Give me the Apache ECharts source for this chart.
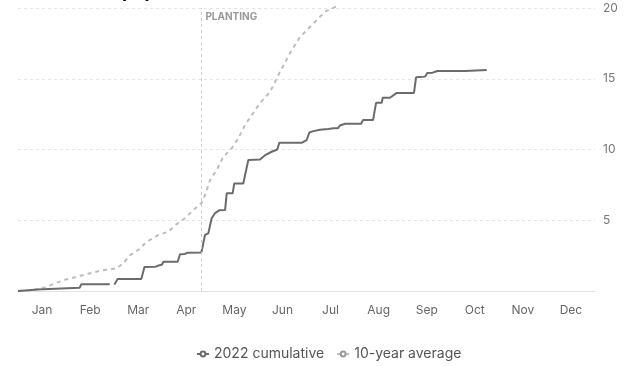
<!DOCTYPE html>
<html>
<head>
<meta charset="utf-8">
<script src="https://cdn.jsdelivr.net/npm/echarts@6/dist/echarts.min.js"></script>
<style>
  html, body { margin: 0; padding: 0; background: #fff; }
  #chart { width: 624px; height: 366px; }
</style>
</head>
<body>
<div id="chart"></div>
<script>
// month labels along the bottom
var months = ['Jan', 'Feb', 'Mar', 'Apr', 'May', 'Jun', 'Jul', 'Aug', 'Sep', 'Oct', 'Nov', 'Dec'];

// 2022 cumulative rainfall, day of year -> inches (null = missing)
var days2022 = [0, 7, 12, 13, 39, 40, 58, 59, 61, 63, 78, 80, 87, 89, 91, 92, 101, 102.5, 105.6, 107, 116,
  118.3, 120.4, 122.5, 124.6, 127.3, 131, 132, 135.8, 136.8, 142.5, 145.7, 153.1, 156.3, 160.5, 164, 165.3,
  179.7, 182.6, 184.3, 186.8, 191, 196.3, 199.5, 202.4, 203.7, 206.9, 217, 218.3, 224.6, 226.5, 230.1, 230.7,
  235.3, 239.6, 250.5, 251.8, 257.5, 258.9, 262.3, 265.3, 282.8, 283.8, 296.5];
var cum2022 = [0, 0.05, 0.1, 0.23, 0.23, 0.47, 0.47, null, 0.45, 0.85, 0.85, 1.7, 1.72, 1.8, 1.85, 2.07, 2.07, 2.6, 2.62, 2.7, 2.72,
  3.96, 4.08, 5.14, 5.5, 5.7, 5.72, 6.9, 6.9, 7.6, 7.6, 9.26, 9.3, 9.6, 9.84, 10.0, 10.48,
  10.48, 10.67, 11.2, 11.3, 11.4, 11.45, 11.5, 11.5, 11.7, 11.82, 11.82, 12.08, 12.08, 13.3, 13.3, 13.66,
  13.66, 14.0, 14.0, 15.1, 15.15, 15.4, 15.43, 15.55, 15.55, 15.62, 15.62];

// 10-year average
var daysAvg = [0, 12.8, 18.2, 24.5, 30.8, 37.1, 45.5, 51.9, 58.2, 62.4, 66.6, 70.9, 76.1, 81.4, 88.8, 95.1,
  100.4, 105.6, 110.9, 116.2, 118.3, 121.5, 125.7, 129.9, 135.2, 139.4, 143.6, 145.7, 153.1, 159.4, 165.7,
  172.1, 178.4, 186.8, 194.2, 202.6];
var avgVals = [0, 0.12, 0.3, 0.59, 0.83, 1.0, 1.25, 1.43, 1.53, 1.6, 1.96, 2.54, 2.9, 3.48, 3.96, 4.19,
  4.73, 5.14, 5.72, 6.24, 6.78, 7.84, 8.55, 9.49, 10.08, 10.8, 11.73, 12.08, 13.29, 14.06, 15.48,
  16.82, 17.95, 18.9, 19.74, 20.17];

var plantingDay = 116;

function pairs(xs, ys) {
  return xs.map(function (d, i) { return [d, ys[i]]; });
}

var chart = echarts.init(document.getElementById('chart'));

var font = 'Inter, "Noto Sans", sans-serif';

var option = {
  animation: false,
  textStyle: { fontFamily: font },
  title: {
    text: 'Rainfall (in)',
    left: 37,
    top: -23,
    textStyle: { fontSize: 20, fontWeight: 'bold', color: '#111', fontFamily: font }
  },
  grid: { left: 18, right: 29, top: 8, bottom: 75 },
  legend: {
    bottom: 0,
    left: 191,
    itemWidth: 12,
    itemHeight: 6,
    itemGap: 12,
    textStyle: { color: '#555', fontSize: 14 },
    data: ['2022 cumulative', '10-year average']
  },
  xAxis: [
    {
      type: 'category',
      data: months,
      boundaryGap: true,
      axisLine: { lineStyle: { color: '#e2e2e2' } },
      axisTick: { alignWithLabel: true, length: 5, lineStyle: { color: '#e2e2e2' } },
      axisLabel: { color: '#666', fontSize: 12, margin: 13 }
    },
    { type: 'value', min: 0, max: 365, show: false }
  ],
  yAxis: {
    type: 'value',
    position: 'right',
    min: 0,
    max: 20,
    interval: 5,
    axisLine: { show: false },
    axisTick: { show: false },
    axisLabel: {
      color: '#777',
      fontSize: 12,
      margin: 8,
      formatter: function (v) { return v === 0 ? '' : v; }
    },
    splitLine: { lineStyle: { color: '#e4e4e4', type: [3, 3] } }
  },
  series: [
    {
      name: '2022 cumulative',
      type: 'line',
      xAxisIndex: 1,
      data: pairs(days2022, cum2022),
      showSymbol: false,
      symbol: 'emptyCircle',
      connectNulls: false,
      itemStyle: { color: '#6b6b6b' },
      lineStyle: { color: '#6b6b6b', width: 2 },
      z: 3
    },
    {
      name: '10-year average',
      type: 'line',
      xAxisIndex: 1,
      data: pairs(daysAvg, avgVals),
      showSymbol: false,
      symbol: 'emptyCircle',
      clip: false,
      itemStyle: { color: '#9a9a9a' },
      lineStyle: { color: '#bdbdbd', width: 2, type: [4, 4] },
      markLine: {
        silent: true,
        symbol: 'none',
        lineStyle: { color: '#cfcfcf', type: [3, 3], width: 1 },
        label: { show: false },
        data: [{ xAxis: plantingDay }]
      },
      markPoint: {
        silent: true,
        symbol: 'circle',
        symbolSize: 0,
        data: [{ coord: [plantingDay, 20] }],
        label: {
          show: true,
          position: 'right',
          distance: 4,
          offset: [0, 9],
          formatter: 'PLANTING',
          color: '#999',
          fontSize: 10,
          fontWeight: 'bold'
        }
      },
      z: 2
    }
  ]
};

chart.setOption(option);
</script>
</body>
</html>
